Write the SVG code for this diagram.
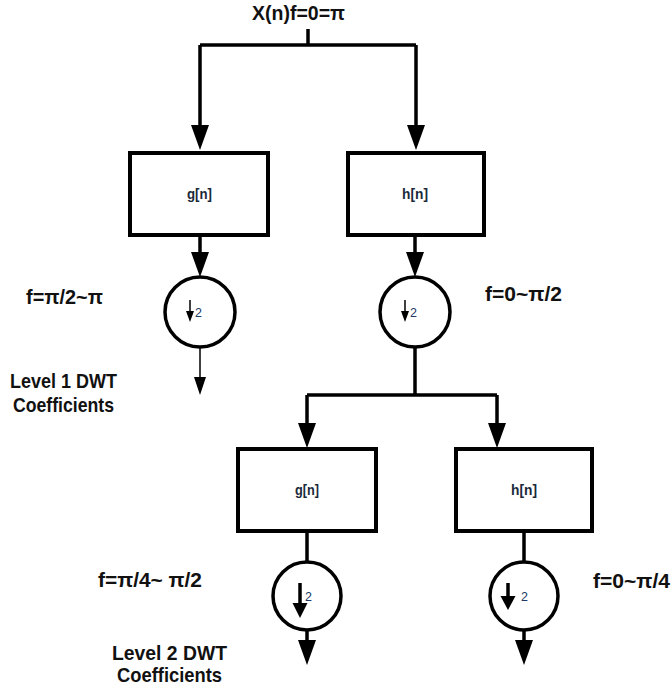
<svg xmlns="http://www.w3.org/2000/svg" width="671" height="688" viewBox="0 0 671 688">
<style>
.bg{fill:#ffffff}
.box{fill:#ffffff;stroke:#000;stroke-width:4}
.circ{fill:#ffffff;stroke:#000;stroke-width:3.5}
.wire{fill:none;stroke:#000;stroke-width:3.5}
.thin{fill:none;stroke:#000;stroke-width:1.5}
.lbl{font-family:"Liberation Sans",Arial,sans-serif;font-weight:bold;font-size:21px;fill:#111}
.blbl{font-family:"Liberation Sans",Arial,sans-serif;font-weight:bold;font-size:14px;fill:#1a2a3a}
.sub{font-family:"Liberation Sans",Arial,sans-serif;font-size:12.5px;fill:#203864}
</style>
<defs>
<marker id="ah" viewBox="0 0 25 18" refX="15" refY="9" markerWidth="25" markerHeight="18" markerUnits="userSpaceOnUse" orient="auto">
<path d="M0,0 L25,9 L0,18 Z" fill="#000"/>
</marker>
<marker id="ahs" viewBox="0 0 18 12" refX="14" refY="6" markerWidth="18" markerHeight="12" markerUnits="userSpaceOnUse" orient="auto">
<path d="M0,0 L18,6 L0,12 Z" fill="#000"/>
</marker>
</defs>
<rect class="bg" x="0" y="0" width="671" height="688"/>

<g id="connectors">
<path class="wire" d="M308,29 V45"/>
<path class="wire" d="M200,45 H416"/>
<path class="wire" d="M200,45 V140" marker-end="url(#ah)"/>
<path class="wire" d="M416,45 V140" marker-end="url(#ah)"/>
<path class="wire" d="M200,235 V267" marker-end="url(#ah)"/>
<path class="wire" d="M415,235 V267" marker-end="url(#ah)"/>
<path class="thin" d="M200,347 V391" marker-end="url(#ahs)"/>
<path class="wire" d="M415,347 V395"/>
<path class="wire" d="M307,395 H497"/>
<path class="wire" d="M307,395 V438" marker-end="url(#ah)"/>
<path class="wire" d="M497,395 V438" marker-end="url(#ah)"/>
<path class="wire" d="M307,531 V562"/>
<path class="wire" d="M524,531 V562"/>
<path class="wire" d="M307,630 V655" marker-end="url(#ah)"/>
<path class="wire" d="M524,630 V655" marker-end="url(#ah)"/>
</g>

<g id="input-label">
<text class="lbl" x="252" y="20" textLength="93" lengthAdjust="spacingAndGlyphs">X(n)f=0=π</text>
</g>

<g id="g1">
<rect class="box" x="130" y="153" width="138" height="82"/>
<text class="blbl" x="187" y="199" textLength="25" lengthAdjust="spacingAndGlyphs">g[n]</text>
</g>
<g id="h1">
<rect class="box" x="348" y="153" width="136" height="82"/>
<text class="blbl" x="402" y="199" textLength="26" lengthAdjust="spacingAndGlyphs">h[n]</text>
</g>

<g id="ds1">
<circle class="circ" cx="200" cy="312" r="35"/>
<path class="thin" d="M190,300 V314"/>
<path d="M186,311 L194,311 L190,322 Z" fill="#000"/>
<text class="sub" x="195" y="317">2</text>
</g>
<g id="ds2">
<circle class="circ" cx="415" cy="312" r="35"/>
<path class="thin" d="M405,300 V314"/>
<path d="M401,311 L409,311 L405,322 Z" fill="#000"/>
<text class="sub" x="410" y="317">2</text>
</g>

<g id="g2">
<rect class="box" x="238" y="449" width="138" height="82"/>
<text class="blbl" x="295" y="495" textLength="24" lengthAdjust="spacingAndGlyphs">g[n]</text>
</g>
<g id="h2">
<rect class="box" x="456" y="449" width="136" height="82"/>
<text class="blbl" x="511" y="495" textLength="26" lengthAdjust="spacingAndGlyphs">h[n]</text>
</g>

<g id="ds3">
<circle class="circ" cx="307" cy="596" r="34"/>
<path class="wire" d="M300,583 V605"/>
<path d="M292.5,603 L307.5,603 L300,618 Z" fill="#000"/>
<text class="sub" x="305" y="601">2</text>
</g>
<g id="ds4">
<circle class="circ" cx="524" cy="596" r="34"/>
<path class="wire" d="M508,583 V598"/>
<path d="M500.5,596 L515.5,596 L508,610 Z" fill="#000"/>
<text class="sub" x="521" y="601">2</text>
</g>

<g id="labels">
<text class="lbl" x="26" y="304" textLength="77" lengthAdjust="spacingAndGlyphs">f=π/2~π</text>
<text class="lbl" x="485" y="301" textLength="77" lengthAdjust="spacingAndGlyphs">f=0~π/2</text>
<text class="lbl" x="10" y="388" textLength="107" lengthAdjust="spacingAndGlyphs">Level 1 DWT</text>
<text class="lbl" x="13" y="412" textLength="101" lengthAdjust="spacingAndGlyphs">Coefficients</text>
<text class="lbl" x="98" y="587" textLength="104" lengthAdjust="spacingAndGlyphs">f=π/4~ π/2</text>
<text class="lbl" x="593" y="588" textLength="77" lengthAdjust="spacingAndGlyphs">f=0~π/4</text>
<text class="lbl" x="112" y="660" textLength="115" lengthAdjust="spacingAndGlyphs">Level 2 DWT</text>
<text class="lbl" x="117" y="682" textLength="105" lengthAdjust="spacingAndGlyphs">Coefficients</text>
</g>
</svg>
